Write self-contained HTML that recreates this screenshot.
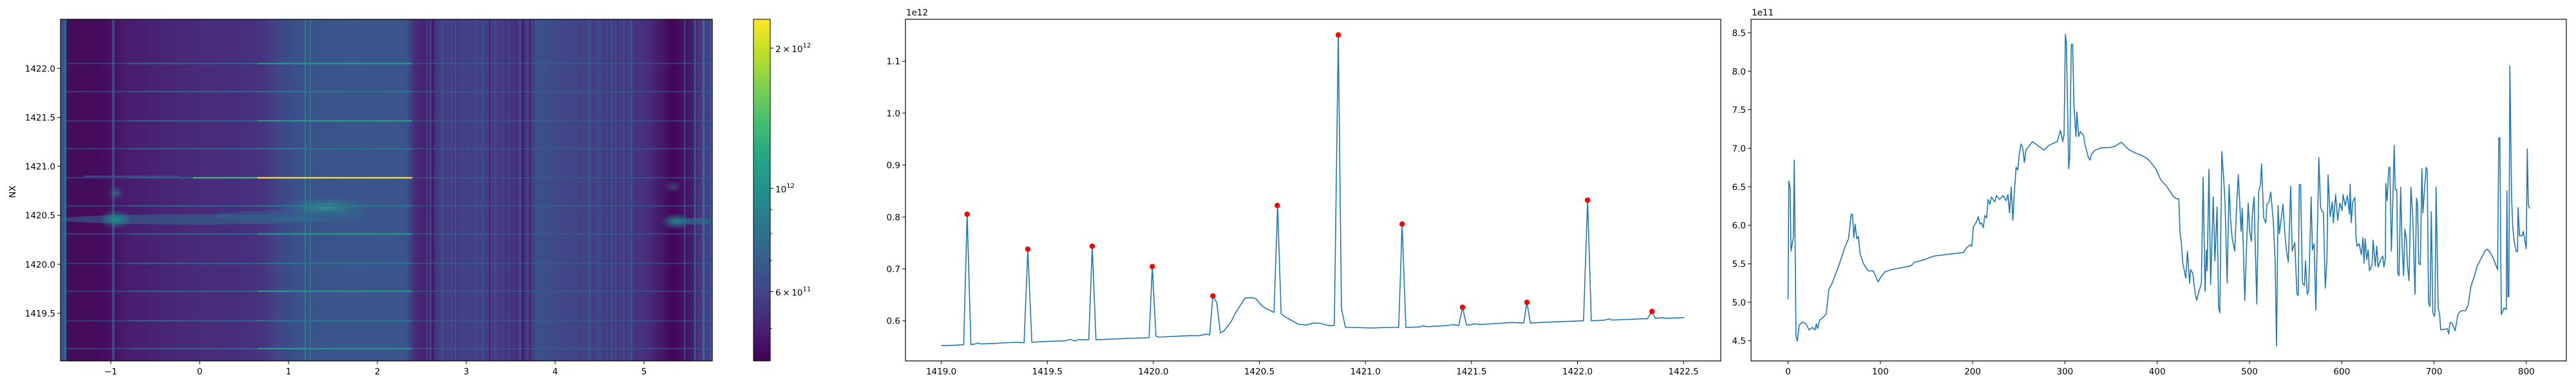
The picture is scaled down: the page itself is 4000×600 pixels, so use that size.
<!DOCTYPE html>
<html><head><meta charset="utf-8"><style>
html,body{margin:0;padding:0;background:#fff;}
svg{display:block;font-family:"DejaVu Sans","Liberation Sans",sans-serif;}
</style></head><body>
<svg id="s" width="4000" height="600" viewBox="0 0 4000 600" xmlns="http://www.w3.org/2000/svg">
<defs>
<linearGradient id="cb" x1="0" y1="1" x2="0" y2="0">
<stop offset="0" stop-color="#440154"/><stop offset="0.1" stop-color="#482475"/><stop offset="0.2" stop-color="#414487"/><stop offset="0.3" stop-color="#355f8d"/><stop offset="0.4" stop-color="#2a788e"/><stop offset="0.5" stop-color="#21918c"/><stop offset="0.6" stop-color="#22a884"/><stop offset="0.7" stop-color="#44bf70"/><stop offset="0.8" stop-color="#7ad151"/><stop offset="0.9" stop-color="#bddf26"/><stop offset="1" stop-color="#fde725"/>
</linearGradient>
<linearGradient id="hm" x1="94" y1="0" x2="1106" y2="0" gradientUnits="userSpaceOnUse">
<stop offset="0" stop-color="#3b528b"/><stop offset="0.006" stop-color="#3b528b"/><stop offset="0.01" stop-color="#450d5e"/><stop offset="0.06" stop-color="#440b5b"/><stop offset="0.1" stop-color="#471c6e"/><stop offset="0.2" stop-color="#482a79"/><stop offset="0.27" stop-color="#472e7c"/><stop offset="0.31" stop-color="#46337f"/><stop offset="0.33" stop-color="#414487"/><stop offset="0.36" stop-color="#3b508a"/><stop offset="0.44" stop-color="#3a568c"/><stop offset="0.53" stop-color="#3b548c"/><stop offset="0.545" stop-color="#472a79"/><stop offset="0.57" stop-color="#46176a"/><stop offset="0.58" stop-color="#433b83"/><stop offset="0.65" stop-color="#42408a"/><stop offset="0.7" stop-color="#46307e"/><stop offset="0.75" stop-color="#3e4c8a"/><stop offset="0.82" stop-color="#433e85"/><stop offset="0.9" stop-color="#46307e"/><stop offset="0.94" stop-color="#440558"/><stop offset="0.97" stop-color="#471c6e"/><stop offset="0.985" stop-color="#433e85"/><stop offset="1" stop-color="#433e85"/>
</linearGradient>
<radialGradient id="blob"><stop offset="0" stop-color="#21918c" stop-opacity="0.95"/><stop offset="1" stop-color="#21918c" stop-opacity="0"/></radialGradient>
<radialGradient id="blob2"><stop offset="0" stop-color="#2a9d8a" stop-opacity="0.9"/><stop offset="1" stop-color="#2a788e" stop-opacity="0"/></radialGradient>
<clipPath id="c1"><rect x="94" y="30" width="1012" height="531"/></clipPath>
</defs>
<g id="hmg" clip-path="url(#c1)">
<rect x="94" y="30" width="1012" height="531" fill="url(#hm)"/>
</g>
<rect x="94" y="30" width="1012" height="531" fill="none" stroke="#000" stroke-width="1.2"/>
<rect x="1170" y="30" width="26" height="531" fill="url(#cb)" stroke="#000" stroke-width="1"/>
<rect x="1406" y="30" width="1266" height="531" fill="none" stroke="#000" stroke-width="1.2"/>
<rect x="2719" y="30" width="1266" height="531" fill="none" stroke="#000" stroke-width="1.2"/>
<g id="g" font-size="13.5" fill="#000"></g>
</svg>
<script>
var NS="http://www.w3.org/2000/svg",svg=document.getElementById('s'),G=document.getElementById('g'),H=document.getElementById('hmg');
function el(t,a,p){var e=document.createElementNS(NS,t);for(var k in a)e.setAttribute(k,a[k]);(p||svg).appendChild(e);return e;}
function txt(x,y,s,anc,p){var e=el('text',{x:x,y:y,'text-anchor':anc||'middle'},p||G);e.textContent=s;return e;}
var vl=[[100,3,'#2a788e'],[174,4,'#3e4f8a'],[473,2,'#25858e'],[481,2,'#2a788e'],[662,2,'#3e4a89'],[666,1,'#3e4a89'],[668,2,'#3b528b'],[676,1,'#3b528b'],[684,3,'#3e4a89'],[688,2,'#3b528b'],[695,1,'#3b528b'],[700,2,'#3e4a89'],[706,2,'#3b528b'],[717,1,'#355f8d'],[724,2,'#3e4a89'],[737,5,'#3e4a89'],[748,2,'#3b528b'],[760,1,'#440154'],[768,2,'#3b528b'],[780,2,'#3e4a89'],[790,2,'#3e4a89'],[806,3,'#3b528b'],[818,2,'#3e4a89'],[810,4,'#481a6c'],[822,2,'#481a6c'],[830,20,'#3b528b'],[855,14,'#3e4a89'],[890,2,'#3e4a89'],[910,6,'#3e4a89'],[915,2,'#355f8d'],[926,8,'#3e4a89'],[942,2,'#3e4a89'],[948,3,'#3b528b'],[955,2,'#3b528b'],[962,2,'#3e4a89'],[967,3,'#3b528b'],[974,2,'#3e4a89'],[978,4,'#3b528b'],[1062,2,'#3b528b'],[1078,2,'#2a788e'],[1091,3,'#2a788e'],[1103,2,'#2a788e']];
vl.forEach(function(v){el('rect',{x:v[0],y:30,width:v[1],height:531,fill:v[2],opacity:0.85},H);});
el('ellipse',{cx:300,cy:341,rx:210,ry:8,fill:'#2f6b8e',opacity:0.55},H);
el('ellipse',{cx:180,cy:341,rx:26,ry:15,fill:'url(#blob)'},H);
el('ellipse',{cx:180,cy:300,rx:14,ry:12,fill:'url(#blob2)',opacity:0.6},H);
el('ellipse',{cx:505,cy:322,rx:70,ry:16,fill:'url(#blob2)'},H);
el('ellipse',{cx:450,cy:335,rx:120,ry:8,fill:'#2f6b8e',opacity:0.4},H);
el('ellipse',{cx:1050,cy:344,rx:24,ry:13,fill:'url(#blob)'},H);
el('ellipse',{cx:1080,cy:344,rx:30,ry:5,fill:'#2a788e',opacity:0.6},H);
el('ellipse',{cx:1045,cy:290,rx:14,ry:10,fill:'url(#blob2)',opacity:0.5},H);
var hy=[98.7,142.4,187.9,231.2,276.3,320,363.6,409.5,452.7,498.7,541.9];
hy.forEach(function(y,i){
 var c=(i%2==0)?'#26a085':'#2a788e';
 el('rect',{x:94,y:y-1,width:1012,height:2,fill:'#31688e',opacity:0.55},H);
 el('rect',{x:200,y:y-1,width:200,height:2,fill:'#2e6f8e',opacity:0.7},H);
 el('rect',{x:400,y:y-1,width:240,height:2,fill:c},H);
});
el('rect',{x:300,y:275.3,width:100,height:2.2,fill:'#3fbc73'},H);
el('rect',{x:400,y:275.3,width:240,height:2.2,fill:'#fde725'},H);
el('rect',{x:130,y:273,width:150,height:2,fill:'#3e4a89'},H);
for(var k=-1;k<=5;k++){var x=310+k*138;el('line',{x1:x,y1:561,x2:x,y2:566,stroke:'#000'},G);txt(x,582,(k<0?'\u22121':String(k)));}
[1419.5,1420.0,1420.5,1421.0,1421.5,1422.0].forEach(function(v){var y=487-(v-1419.5)*152.3;el('line',{x1:89,y1:y,x2:94,y2:y,stroke:'#000'},G);txt(86,y+5,v.toFixed(1),'end');});
var t=txt(24,298,'NX');t.setAttribute('transform','rotate(-90 24 298)');
function cy(v){return 292.8-Math.log10(v/1e12)*724;}
[5e11,7e11,8e11,9e11].forEach(function(v){var y=cy(v);el('line',{x1:1196,y1:y,x2:1199,y2:y,stroke:'#000'},G);});
[[2e12,'2\u2009\u00d7\u200910'],[1e12,'10'],[6e11,'6\u2009\u00d7\u200910']].forEach(function(a){var y=cy(a[0]);el('line',{x1:1196,y1:y,x2:1201,y2:y,stroke:'#000'},G);
 var e=txt(1204,y+6,a[1],'start');var ts=el('tspan',{dy:-7,'font-size':'10'},e);ts.textContent=(a[0]==6e11?'11':'12');});
for(var k=0;k<=7;k++){var x=1461.6+k*164.65;el('line',{x1:x,y1:561,x2:x,y2:566,stroke:'#000'},G);txt(x,582,(1419+k*0.5).toFixed(1));}
[0.6,0.7,0.8,0.9,1.0,1.1].forEach(function(v){var y=337.3-(v-0.8)*807;el('line',{x1:1401,y1:y,x2:1406,y2:y,stroke:'#000'},G);txt(1398,y+5,v.toFixed(1),'end');});
txt(1407,24,'1e12','start');
function pts(list,ox,sx,sy){var o=[];for(var i=0;i<list.length;i+=2)o.push([ox+list[i]/sx,list[i+1]/sy]);return o;}
var p2=[].concat(
 pts([922,1403,940,1404,1000,1400,1012,870,1025,1400,1040,1397,1050,1393,1060,1397,1100,1395,1180,1390,1210,1392,1223,1012,1237,1390,1280,1387,1355,1384,1370,1378,1385,1385,1400,1380,1435,1380,1447,1000,1460,1380,1500,1378,1560,1375],1050,2.24,2.613),
 pts([0,828,103,825,118,493,135,818,150,822,230,818,290,815,340,815,370,808,385,812,400,630,418,660,435,802,450,795,485,750,505,710,550,640,580,638,600,642,630,678,660,695,685,707],1750,3,1).map(function(p){return [p[0],250+p[1]/3];}),
 pts([76,835,88,1275,100,1285,148,1317,175,1320,200,1312,225,1313,245,1320,262,1323,273,1322,287,142,298,1255,312,1330,340,1330,400,1332,460,1330,497,1330,509,910,522,1330,570,1328,582,1323,595,1327,670,1322,685,1318,706,1322,719,1248,733,1320,745,1320,760,1315,780,1318,850,1313,890,1310,932,1312,943,1228,955,1312,1020,1308,1140,1303,1154,813,1167,1303,1215,1300,1228,1295,1240,1300,1340,1295,1362,1295,1378,1265,1390,1293,1415,1290,1425,1293,1490,1290],1950,2.24,2.613)
);
el('polyline',{points:p2.map(function(p){return p[0].toFixed(1)+','+p[1].toFixed(1);}).join(' '),fill:'none',stroke:'#1f77b4','stroke-width':1.6,'stroke-linejoin':'round'});
var pk=[[1050+1012/2.24,870/2.613],[1050+1223/2.24,1012/2.613],[1050+1447/2.24,1000/2.613],[1750+118/3,250+493/3],[1750+400/3,250+630/3],[1750+700/3,250+208/3],[1950+287/2.24,142/2.613],[1950+509/2.24,910/2.613],[1950+719/2.24,1248/2.613],[1950+943/2.24,1228/2.613],[1950+1154/2.24,813/2.613],[1950+1378/2.24,1265/2.613]];
pk.forEach(function(p){el('circle',{cx:p[0],cy:p[1],r:4.2,fill:'#ff0000'});});
for(var k=0;k<=8;k++){var x=2776.5+k*143.3;el('line',{x1:x,y1:561,x2:x,y2:566,stroke:'#000'},G);txt(x,582,String(k*100));}
for(var v=4.5;v<=8.51;v+=0.5){var y=529.7-(v-4.5)*119.7;el('line',{x1:2714,y1:y,x2:2719,y2:y,stroke:'#000'},G);txt(2711,y+5,v.toFixed(1),'end');}
txt(2720,24,'1e11','start');
var p3=[].concat(
 pts([346,1215,348,735,352,760,355,1020,362,965,365,650,370,1365,374,1385,380,1320,390,1308,400,1315,410,1340,420,1330,428,1340,432,1315,436,1335,442,1300,452,1290,462,1275,468,1200,470,1175,480,1150,490,1115,500,1080,510,1040,520,1000,530,970,538,870,542,870,546,965,550,910,555,970,560,960,565,1030,575,1070,590,1100,605,1100,612,1120,620,1145,628,1125,640,1105,660,1095,700,1085,720,1080,730,1065,760,1055,790,1040,820,1035,880,1025,890,1005,900,995,905,1000,910,920,918,905,925,880,930,910,935,905,940,925,945,875,950,885,955,810,960,830,965,800,975,820,980,795,990,810,1000,795,1010,815,1015,790,1020,865,1025,760,1030,895,1035,770,1040,680,1045,690,1050,620,1055,585,1060,600,1065,660,1070,610,1075,600,1090,575,1110,595,1125,610,1140,590,1165,575,1175,530,1182,575,1186,545,1190,140,1193,175,1200,685,1203,640,1208,180,1212,180,1216,430,1222,555,1225,455,1230,555,1235,535,1245,550,1250,590,1260,640,1265,650,1270,625,1280,610,1290,605,1300,600,1320,600,1340,595,1360,578,1370,590,1380,605,1400,620,1420,630,1440,645,1450,660,1465,685,1475,715,1480,730,1490,745,1500,760,1510,780,1520,800,1530,808],2600,1.96,2.613),
 pts([250,808,255,940,262,990,268,1065,282,1130,290,1020,300,1150,305,1095,315,1110,325,1185,333,1220,340,1195,355,1150,363,720,372,1183,378,1015,382,1100,390,688,398,1155,410,800,418,1060,428,840,435,1250,441,1270,450,615,458,715,465,820,475,1150,484,750,490,880,498,965,510,1020,520,820,527,710,540,940,545,845,557,1220,565,1010,573,825,580,940,588,980,592,875,600,800,613,1235,622,780,630,750,635,665,645,885,655,905,660,830,670,820,678,780,690,900,698,1050,705,1405,712,835,718,950,722,920,735,830,741,920,750,1010,760,1065,771,757,778,1020,790,985,800,1195,806,1200,811,750,817,750,826,1150,835,1160,840,1060,848,1195,855,1180,866,800,872,1015,880,990,888,1260,902,640,910,840,918,860,923,860,932,1170,940,1055,945,710,955,880,965,820,970,905,980,790,990,895,1000,825,1010,855,1015,790,1025,835,1035,795,1045,870,1048,748,1053,905,1060,820,1070,802,1075,960,1080,1000,1090,990,1100,1035,1108,965,1112,1070,1118,970,1125,1055,1132,1015,1138,1100,1150,1075,1155,975,1165,1080,1172,1000,1178,1085,1190,1055,1200,1040,1205,1085,1212,1050],3300,3,2.613),
 pts([14,745,20,815,28,680,33,680,40,1020,47,800,53,590,58,770,65,770,70,1110,76,1120,83,760,90,1000,97,1120,103,930,110,970,115,1080,122,1140,131,760,140,890,150,1195,157,805,162,830,167,1070,175,1075,182,685,187,865,195,760,202,680,207,690,213,1230,220,1245,226,860,233,1270,240,1285,243,1270,248,760,258,1250,265,1280,270,1340,290,1337,300,1335,307,1357,313,1310,322,1312,330,1330,337,1343,350,1277,360,1265,370,1262,385,1262,398,1237,410,1165,425,1125,440,1080,458,1050,475,1020,487,1012,500,1025,515,1050,535,1095,540,560,545,560,552,1278,565,1250,575,1258,578,775,583,1205,587,1205,592,268,600,800,605,920,612,980,622,1022,628,1022,630,843,637,958,648,958,655,940,668,1010,673,605,678,835,685,847],3700,3,2.613)
);
el('polyline',{points:p3.map(function(p){return p[0].toFixed(1)+','+p[1].toFixed(1);}).join(' '),fill:'none',stroke:'#1f77b4','stroke-width':1.6,'stroke-linejoin':'round'});
</script>
</body></html>
